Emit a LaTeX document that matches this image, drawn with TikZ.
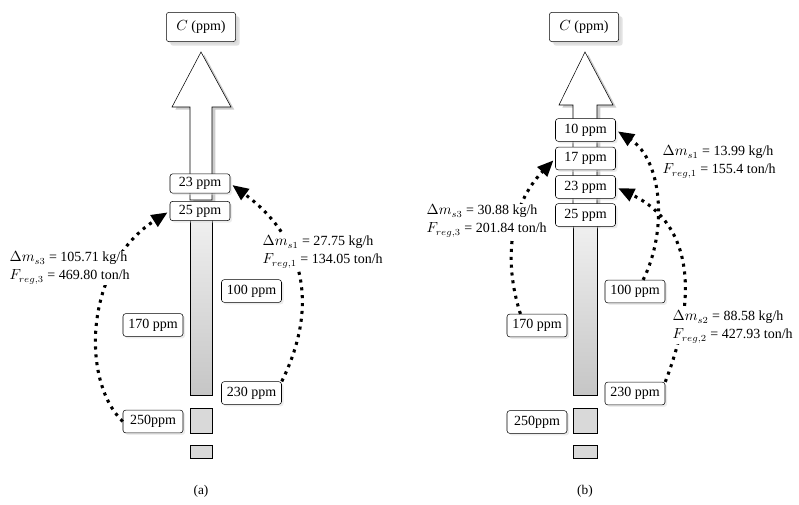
\documentclass[tikz,border=0pt]{standalone}
\usepackage{fontspec}
\setmainfont{Liberation Serif}
\usetikzlibrary{arrows.meta, shadows}

\tikzset{
  ppm/.style={draw, rounded corners=2pt, fill=white, inner sep=1pt,
    minimum width=45pt, minimum height=17pt, font=\fontsize{10.5}{12}\selectfont,
    drop shadow={shadow xshift=1.5pt, shadow yshift=-1.5pt, fill=gray!30}},
  ppmthin/.style={ppm, minimum height=14.5pt},
  topbox/.style={ppm, minimum width=52pt, minimum height=22pt,
    drop shadow={shadow xshift=3pt, shadow yshift=-3pt, fill=gray!45}},
  lbl/.style={anchor=west, align=left, fill=white, inner sep=1pt,
    font=\fontsize{10.5}{13.5}\selectfont},
  regen/.style={line width=2.3pt, dash pattern=on 2.3pt off 3.6pt,
    -{Triangle[length=12pt, width=10pt]}, shorten >=2pt},
  shaft/.style={draw, top color=gray!12, bottom color=gray!45},
  sub/.style={draw, fill=gray!30}
}

\begin{document}
\begin{tikzpicture}[x=0.75pt, y=-0.75pt]
  \useasboundingbox (0,0) rectangle (799,504);

  % ---------------- (a) ----------------
  % main arrow and its shadow
  \fill[gray!40, xshift=2.5pt, yshift=-2pt]
    (190,200) -- (190,107) -- (172,107) -- (201,52) -- (231,107) -- (212,107) -- (212,200) -- cycle;
  \draw[fill=white]
    (190,200) -- (190,107) -- (172,107) -- (201,52) -- (231,107) -- (212,107) -- (212,200) -- cycle;
  \draw[shaft] (190,218) rectangle (212,395);
  \draw[sub] (190,408) rectangle (212,433);
  \draw[sub] (190,445) rectangle (212,458);

  % concentration boxes
  \node[topbox] (aC) at (201,27) {$C$ (ppm)};
  \node[ppmthin] (a23) at (200,183.5) {23 ppm};
  \node[ppmthin] (a25) at (200,211) {25 ppm};
  \node[ppm] (a100) at (251.5,291) {100 ppm};
  \node[ppm] (a170) at (153,325) {170 ppm};
  \node[ppm] (a230) at (251.5,393) {230 ppm};
  \node[ppm] (a250) at (153,421.5) {250ppm};

  % regeneration loops
  \draw[regen] (a230.north east) .. controls (322,300) and (300,235) .. (a23.east);
  \draw[regen] (a250.west) .. controls (80,380) and (85,265) .. (a25.west);
  \node[lbl] (la1) at (261,252)
    {$\Delta m_{s1}$ = 27.75 kg/h\\$F_{reg,1}$ = 134.05 ton/h};
  \node[lbl] (la3) at (8,268)
    {$\Delta m_{s3}$ = 105.71 kg/h\\$F_{reg,3}$ = 469.80 ton/h};

  \node (capa) at (201,491) {(a)};

  % ---------------- (b) ----------------
  % main arrow and its shadow
  \fill[gray!40, xshift=2.5pt, yshift=-2pt]
    (573,225) -- (573,105) -- (559,105) -- (585,52) -- (613,105) -- (597,105) -- (597,225) -- cycle;
  \draw[fill=white]
    (573,225) -- (573,105) -- (559,105) -- (585,52) -- (613,105) -- (597,105) -- (597,225) -- cycle;
  \draw[shaft] (573,225) rectangle (597,395);
  \draw[sub] (573,408) rectangle (597,433);
  \draw[sub] (573,445) rectangle (597,458);

  % concentration boxes
  \node[topbox] (bC) at (584,27) {$C$ (ppm)};
  \node[ppm] (b10) at (585.5,130) {10 ppm};
  \node[ppm] (b17) at (585.5,158.5) {17 ppm};
  \node[ppm] (b23) at (585.5,187) {23 ppm};
  \node[ppm] (b25) at (585.5,215) {25 ppm};
  \node[ppm] (b100) at (635,291.5) {100 ppm};
  \node[ppm] (b170) at (537,325.5) {170 ppm};
  \node[ppm] (b230) at (635,393.5) {230 ppm};
  \node[ppm] (b250) at (537,422) {250ppm};

  % regeneration loops
  \draw[regen] (b100.55) .. controls (668,230) and (662,160) .. (b10.east);
  \draw[regen] (b230.north east) .. controls (697,300) and (695,225) .. (b23.east);
  \draw[regen] (b170.145) .. controls (503,260) and (510,205) .. (b17.west);
  \node[lbl] (lb1) at (661,162)
    {$\Delta m_{s1}$ = 13.99 kg/h\\$F_{reg,1}$ = 155.4 ton/h};
  \node[lbl] (lb2) at (671,327)
    {$\Delta m_{s2}$ = 88.58 kg/h\\$F_{reg,2}$ = 427.93 ton/h};
  \node[lbl] (lb3) at (425,221)
    {$\Delta m_{s3}$ = 30.88 kg/h\\$F_{reg,3}$ = 201.84 ton/h};

  \node (capb) at (585,491) {(b)};
\end{tikzpicture}
\end{document}
